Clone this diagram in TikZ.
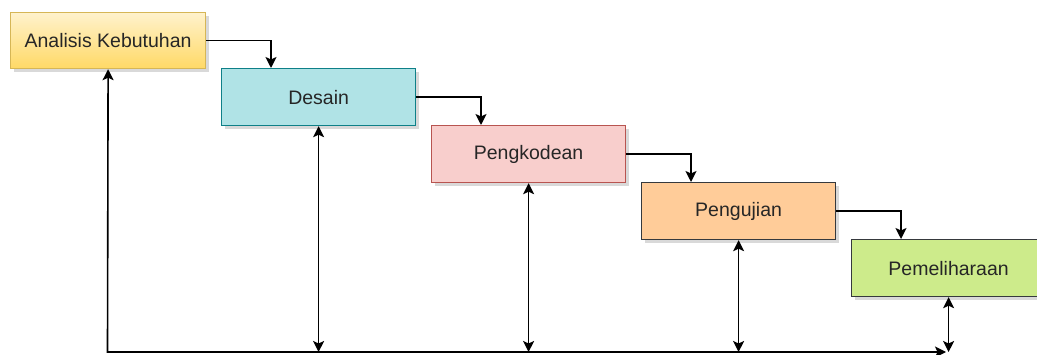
\documentclass[tikz,border=0pt]{standalone}
\usepackage{fontspec}
\setmainfont{Liberation Sans}
\usetikzlibrary{arrows.meta,shadows}
\definecolor{ylTop}{HTML}{FFF2CC}
\definecolor{ylBot}{HTML}{FFD966}
\definecolor{ylBd}{HTML}{D6B656}
\definecolor{cyFill}{HTML}{B0E3E6}
\definecolor{cyBd}{HTML}{0E8088}
\definecolor{pkFill}{HTML}{F8CECC}
\definecolor{pkBd}{HTML}{B85450}
\definecolor{orFill}{HTML}{FFCC99}
\definecolor{grFill}{HTML}{CDEB8B}
\definecolor{dkBd}{HTML}{36393D}
\definecolor{txt}{HTML}{262626}
\begin{document}
\begin{tikzpicture}[x=1pt,y=-1pt,
  box/.style={draw, line width=1.2pt, minimum width=194pt, minimum height=57pt,
    anchor=north west, inner sep=0pt, text=txt,
    font=\fontsize{19.5}{23}\selectfont,
    drop shadow={shadow xshift=3pt, shadow yshift=-3pt, opacity=0.3, fill=gray}},
  tip/.style={Stealth[length=11pt,width=11pt,inset=2.5pt]},
  conn/.style={line width=1.6pt, draw=black, -{Stealth[length=11pt,width=11pt,inset=2.5pt]}},
  dconn/.style={line width=1.6pt, draw=black, {Stealth[length=11pt,width=11pt,inset=2.5pt]}-{Stealth[length=11pt,width=11pt,inset=2.5pt]}}
]
\clip (0,0) rectangle (1037,355);
\node[box, draw=ylBd, top color=ylTop, bottom color=ylBot, minimum width=195pt, minimum height=56pt] (a) at (10,12) {Analisis Kebutuhan};
\node[box, draw=cyBd, fill=cyFill] (b) at (221,68) {Desain};
\node[box, draw=pkBd, fill=pkFill] (c) at (431,125) {Pengkodean};
\node[box, draw=dkBd, fill=orFill] (d) at (641,182) {Pengujian};
\node[box, draw=dkBd, fill=grFill] (e) at (851,239) {Pemeliharaan};

\draw[conn] (a.east) -| ([xshift=50pt]b.north west);
\draw[conn] (b.east) -| ([xshift=50pt]c.north west);
\draw[conn] (c.east) -| ([xshift=50pt]d.north west);
\draw[conn] (d.east) -| ([xshift=50pt]e.north west);

\coordinate (bl) at (107.5,352);
\coordinate (br) at (946,352);
\draw[dconn] (a.south) -- (bl) -- (br);

\draw[dconn] (b.south) -- (b.south |- bl);
\draw[dconn] (c.south) -- (c.south |- bl);
\draw[dconn] (d.south) -- (d.south |- bl);
\draw[dconn] (e.south) -- (e.south |- bl);
\end{tikzpicture}
\end{document}
